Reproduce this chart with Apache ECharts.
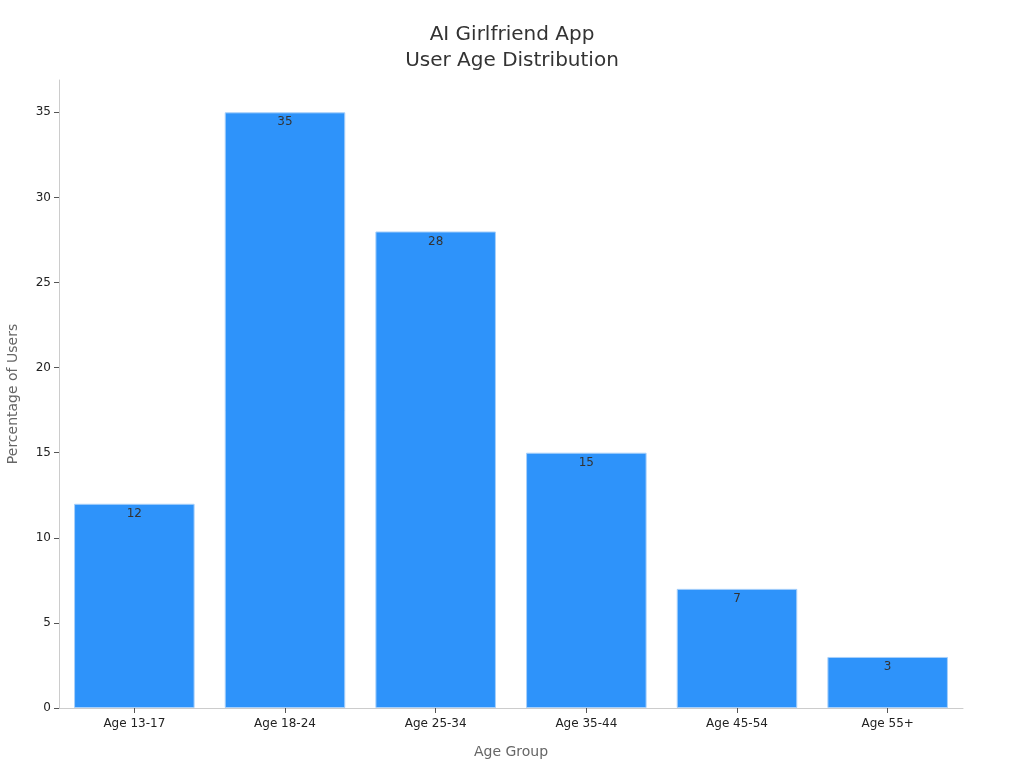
<!DOCTYPE html>
<html>
<head>
<meta charset="utf-8">
<script src="https://cdn.jsdelivr.net/npm/echarts@6/dist/echarts.min.js"></script>
<style>
  html, body { margin: 0; padding: 0; background: #fff; }
  #chart { width: 1024px; height: 768px; }
</style>
</head>
<body>
<div id="chart"></div>
<script>
// data
const categories = ['Age 13-17', 'Age 18-24', 'Age 25-34', 'Age 35-44', 'Age 45-54', 'Age 55+']
const userShare = [12, 35, 28, 15, 7, 3]

const myChart = echarts.init(document.getElementById('chart'))
const font = 'DejaVu Sans'

const option = {
  backgroundColor: '#ffffff',
  textStyle: { fontFamily: font },
  title: {
    text: 'AI Girlfriend App\nUser Age Distribution',
    left: 'center',
    top: 17,
    textStyle: { fontFamily: font, fontSize: 20, fontWeight: 'normal', color: '#333', lineHeight: 26 }
  },
  grid: { left: 59, right: 61, top: 80, bottom: 60, containLabel: false, outerBoundsMode: 'none' },
  xAxis: {
    type: 'category',
    data: categories,
    name: 'Age Group',
    nameLocation: 'middle',
    nameGap: 37,
    nameTextStyle: { fontFamily: font, fontSize: 14, color: '#666' },
    axisLine: { lineStyle: { color: '#ccc' } },
    axisTick: { show: true, alignWithLabel: true, length: 5, lineStyle: { color: '#555' } },
    axisLabel: { fontFamily: font, fontSize: 12, color: '#222', margin: 10 }
  },
  yAxis: {
    type: 'value',
    min: 0,
    max: 36.9,
    interval: 5,
    name: 'Percentage of Users',
    nameLocation: 'middle',
    nameGap: 39,
    nameTextStyle: { fontFamily: font, fontSize: 14, color: '#666' },
    axisLine: { show: true, lineStyle: { color: '#ccc' } },
    axisTick: { show: true, length: 5, lineStyle: { color: '#555' } },
    axisLabel: {
      fontFamily: font, fontSize: 12, color: '#222', margin: 8,
      showMaxLabel: false
    },
    splitLine: { show: false }
  },
  series: [
    {
      type: 'bar',
      data: userShare,
      barCategoryGap: '20%',
      itemStyle: { color: '#2e93fa', borderColor: '#a8d0fa', borderWidth: 1 },
      label: {
        show: true,
        position: 'insideTop',
        distance: 4,
        fontFamily: font,
        fontSize: 12,
        color: '#333'
      }
    }
  ]
}

myChart.setOption(option)
</script>
</body>
</html>
